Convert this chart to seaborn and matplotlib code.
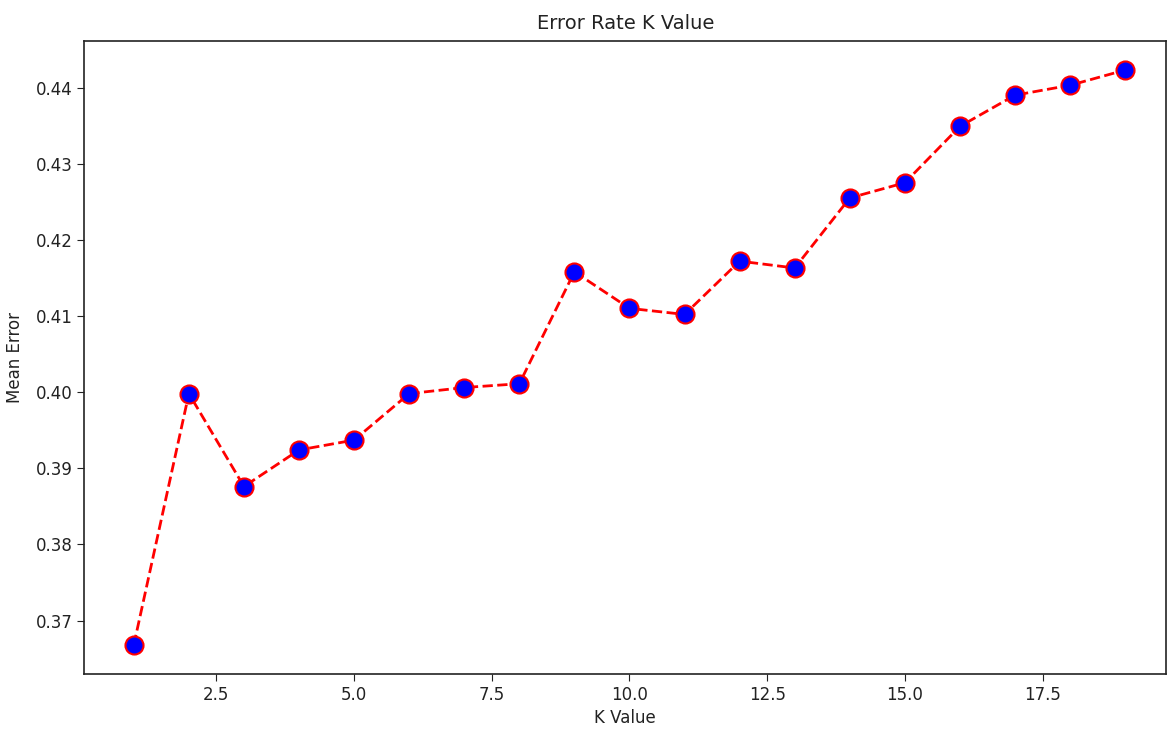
import numpy as np
import pandas as pd
import seaborn as sns
import matplotlib.pyplot as plt

# ---------------------------------------------------------
# Mean error for each K value
# ---------------------------------------------------------
k_values = list(range(1, 20))
mean_error = [0.3668, 0.3998, 0.3876, 0.3924, 0.3937, 0.3998, 0.4006, 0.4011,
              0.4158, 0.4110, 0.4102, 0.4172, 0.4163, 0.4255, 0.4275, 0.4349,
              0.4390, 0.4403, 0.4423]

df = pd.DataFrame({"K": k_values, "Error": mean_error})

# ---------------------------------------------------------
# Plot
# ---------------------------------------------------------
sns.set_style("ticks")
plt.rcParams["font.family"] = ["DejaVu Sans"]
plt.rcParams["text.color"] = "#222222"
plt.rcParams["axes.labelcolor"] = "#222222"
plt.rcParams["xtick.color"] = "#222222"
plt.rcParams["ytick.color"] = "#222222"

fig = plt.figure(figsize=(11.7, 7.34), dpi=100)
ax = fig.add_axes([0.072, 0.082, 0.925, 0.862])

sns.lineplot(
    data=df, x="K", y="Error", ax=ax,
    color="red", linestyle="--", linewidth=2,
    marker="o", markerfacecolor="blue", markeredgecolor="red",
    markeredgewidth=1.5, markersize=13,
)

ax.set_xlim(0.1, 19.75)
ax.set_ylim(0.3630, 0.4461)
ax.set_title("Error Rate K Value", fontsize=14, pad=9)
ax.set_xlabel("K Value", fontsize=12, labelpad=4)
ax.set_ylabel("Mean Error", fontsize=12, labelpad=8)
ax.tick_params(labelsize=12, length=5)
for s in ax.spines.values():
    s.set_linewidth(1.2)
    s.set_color("#222222")

fig.savefig("out.png", dpi=100)
